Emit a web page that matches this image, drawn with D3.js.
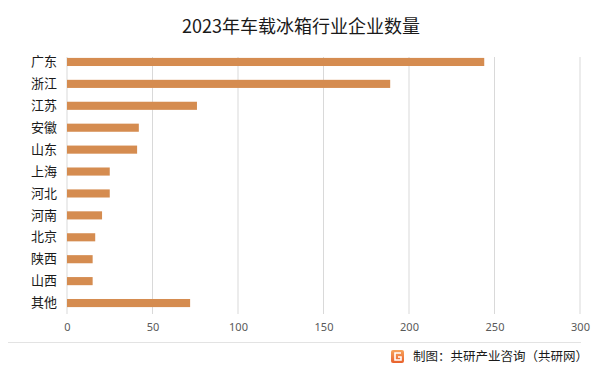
<!DOCTYPE html>
<html>
<head>
<meta charset="utf-8">
<script src="https://cdn.jsdelivr.net/npm/d3@7"></script>
<style>
  body { margin: 0; background: #fff; }
  svg { display: block; font-family: "Noto Sans CJK SC", "Noto Sans", sans-serif; }
</style>
</head>
<body>
<svg id="chart" width="602" height="375"></svg>
<script>
var provinces = ["广东", "浙江", "江苏", "安徽", "山东", "上海", "河北",
	"河南", "北京", "陕西", "山西", "其他"];
var companies = [244, 189, 76, 42, 41, 25, 25, 20.5, 16.5, 15, 15, 72];
var xTicks = [0, 50, 100, 150, 200, 250, 300];

var svg = d3.select("#chart");

var x = d3.scaleLinear()
	.domain([0, 300])
	.range([67, 580]);

var y = d3.scaleBand()
	.domain(provinces)
	.range([51, 314])
	.paddingInner(0.63)
	.paddingOuter(0.315);

// title
svg.append("text")
	.attr("x", 301)
	.attr("y", 33)
	.attr("text-anchor", "middle")
	.attr("font-size", 18)
	.attr("fill", "#1a1a1a")
	.text("2023年车载冰箱行业企业数量");

// vertical gridlines
svg.append("g")
	.selectAll("line")
	.data(xTicks)
	.enter()
	.append("line")
	.attr("x1", function(d) { return x(d); })
	.attr("x2", function(d) { return x(d); })
	.attr("y1", 57)
	.attr("y2", 314)
	.attr("stroke", "#d9d9d9")
	.attr("stroke-width", 1);

// bars
svg.append("g")
	.selectAll("rect")
	.data(provinces)
	.enter()
	.append("rect")
	.attr("x", x(0))
	.attr("y", function(d) { return y(d); })
	.attr("width", function(d, i) { return x(companies[i]) - x(0); })
	.attr("height", y.bandwidth())
	.attr("fill", "#d58c50");

// category axis
var yAxis = svg.append("g")
	.attr("transform", "translate(" + x(0) + ",0)")
	.call(d3.axisLeft(y).tickSize(0).tickPadding(10));
yAxis.select(".domain").remove();
yAxis.selectAll("text")
	.attr("font-size", 13)
	.attr("font-family", "\"Noto Sans CJK SC\", sans-serif")
	.attr("fill", "#1a1a1a");

// value axis
var xAxis = svg.append("g")
	.attr("transform", "translate(0,314)")
	.call(d3.axisBottom(x).tickValues(xTicks).tickSize(0).tickPadding(9));
xAxis.select(".domain").remove();
xAxis.selectAll("text")
	.attr("font-size", 11)
	.attr("font-family", "\"Noto Sans\", sans-serif")
	.attr("fill", "#595959");

// footer rule
svg.append("line")
	.attr("x1", 8)
	.attr("x2", 581)
	.attr("y1", 342.5)
	.attr("y2", 342.5)
	.attr("stroke", "#e3e3e3")
	.attr("stroke-width", 1);

// logo
var logo = svg.append("g").attr("transform", "translate(391,350)");
var grad = svg.append("defs").append("linearGradient")
	.attr("id", "logoGrad")
	.attr("x1", 0).attr("y1", 0).attr("x2", 0).attr("y2", 1);
grad.append("stop").attr("offset", 0).attr("stop-color", "#f7a35c");
grad.append("stop").attr("offset", 1).attr("stop-color", "#e8612c");
logo.append("rect")
	.attr("width", 13)
	.attr("height", 13)
	.attr("rx", 2)
	.attr("fill", "url(#logoGrad)");
logo.append("path")
	.attr("d", "M10,3 H4 V10 H10 V7 H7")
	.attr("fill", "none")
	.attr("stroke", "#fff")
	.attr("stroke-width", 1.6);

svg.append("text")
	.attr("x", 413)
	.attr("y", 361)
	.attr("font-size", 12.5)
	.attr("fill", "#1a1a1a")
	.text("制图：共研产业咨询（共研网）");
</script>
</body>
</html>
